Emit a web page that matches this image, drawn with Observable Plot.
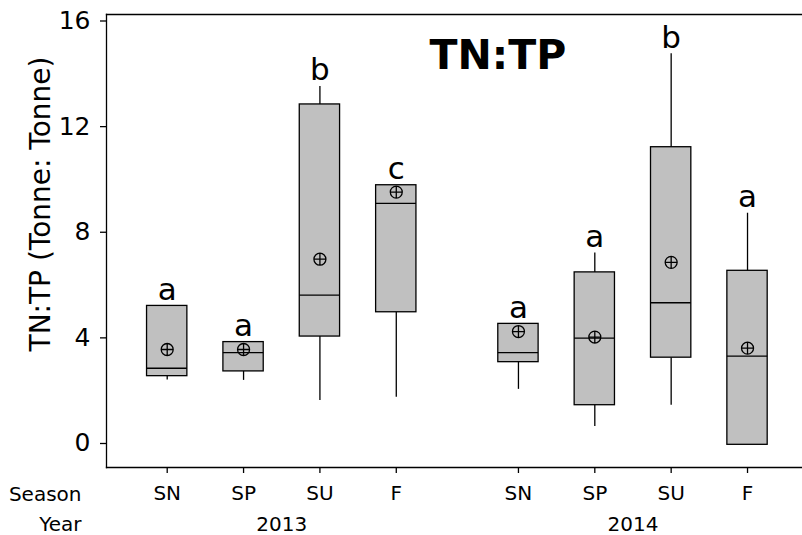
<!DOCTYPE html>
<html>
<head>
<meta charset="utf-8">
<script src="https://cdn.jsdelivr.net/npm/d3@7"></script>
<script src="https://cdn.jsdelivr.net/npm/@observablehq/plot@0.6"></script>
<style>
  body { margin: 0; background: #fff; }
  #chart svg { display: block; }
</style>
</head>
<body>
<div id="chart"></div>
<script>
// TN:TP ratio by season and year (box = quartiles, line = median, ⊕ = mean)
const years = ["2013", "2014"];
const seasons = ["SN", "SP", "SU", "F"];
const groupYear   = ["2013", "2013", "2013", "2013", "2014", "2014", "2014", "2014"];
const groupSeason = ["SN", "SP", "SU", "F", "SN", "SP", "SU", "F"];
const whiskerLow  = [2.40, 2.39, 1.63, 1.75, 2.05, 0.64, 1.45, -0.05];
const quartile1   = [2.55, 2.73, 4.05, 4.97, 3.08, 1.45, 3.25, -0.05];
const median      = [2.85, 3.44, 5.62, 9.09, 3.44, 3.99, 5.33, 3.31];
const quartile3   = [5.21, 3.84, 12.84, 9.78, 4.53, 6.48, 11.22, 6.54];
const whiskerHigh = [5.21, 3.84, 13.52, 9.78, 4.53, 7.21, 14.76, 8.72];
const means       = [3.56, 3.56, 6.98, 9.52, 4.24, 4.03, 6.86, 3.61];
const letters     = ["a", "a", "b", "c", "a", "a", "b", "a"];
const yTicks = [0, 4, 8, 12, 16];

const GAP = 0.6;    // extra slot spacing between the two years
const HALF = 0.264; // half box width, in slot units

const rows = groupSeason.map((s, i) => ({
  season: s,
  year: groupYear[i],
  pos: seasons.indexOf(s) + years.indexOf(groupYear[i]) * (seasons.length + GAP),
  lo: whiskerLow[i], q1: quartile1[i], med: median[i], q3: quartile3[i],
  hi: whiskerHigh[i], mean: means[i], letter: letters[i]
}));

const yearCenters = years.map(y => {
  const p = rows.filter(d => d.year === y).map(d => d.pos);
  return {year: y, pos: d3.mean(p)};
});

// circle with a plus through it, used for the mean
const circlePlus = {
  draw(context, size) {
    const r = Math.sqrt(size / Math.PI);
    context.moveTo(r, 0);
    context.arc(0, 0, r, 0, 2 * Math.PI);
    context.moveTo(-r, 0); context.lineTo(r, 0);
    context.moveTo(0, -r); context.lineTo(0, r);
  }
};

const SW = 1.3;
const chart = Plot.plot({
  width: 802,
  height: 535,
  marginLeft: 106,
  marginRight: 0,
  marginTop: 14,
  marginBottom: 68,
  style: {fontFamily: "'DejaVu Sans', sans-serif", fontSize: "20px", color: "black", background: "white"},
  x: {type: "linear", domain: [-0.795, 8.32], axis: null},
  y: {domain: [-0.909, 16.246], axis: null},
  marks: [
    Plot.frame({anchor: "left", stroke: "black", strokeWidth: SW}),
    Plot.frame({anchor: "top", stroke: "black", strokeWidth: SW}),
    Plot.frame({anchor: "bottom", stroke: "black", strokeWidth: SW}),
    Plot.axisY({ticks: yTicks, tickSize: 6, tickPadding: 10, fontSize: 25, label: null, strokeWidth: SW}),
    Plot.axisX({ticks: rows.map(d => d.pos), tickFormat: (d, i) => rows[i].season,
      tickSize: 6, tickPadding: 12, fontSize: 20, label: null, strokeWidth: SW}),
    // whiskers
    Plot.ruleX(rows.filter(d => d.hi > d.q3), {x: "pos", y1: "q3", y2: "hi", stroke: "black", strokeWidth: SW}),
    Plot.ruleX(rows.filter(d => d.lo < d.q1), {x: "pos", y1: "lo", y2: "q1", stroke: "black", strokeWidth: SW}),
    // boxes
    Plot.rect(rows, {x1: d => d.pos - HALF, x2: d => d.pos + HALF, y1: "q1", y2: "q3",
      fill: "#c0c0c0", stroke: "black", strokeWidth: SW}),
    Plot.ruleY(rows, {y: "med", x1: d => d.pos - HALF, x2: d => d.pos + HALF, stroke: "black", strokeWidth: SW}),
    // means
    Plot.dot(rows, {x: "pos", y: "mean", r: 6, symbol: circlePlus, fill: "none", stroke: "black", strokeWidth: SW}),
    // grouping letters
    Plot.text(rows, {x: "pos", y: d => Math.max(d.hi, d.q3), text: "letter", dy: -6,
      lineAnchor: "bottom", fontSize: 31}),
    // title inside the frame
    Plot.text(["TN:TP"], {frameAnchor: "top-left", dx: 323, dy: 54, lineAnchor: "bottom",
      textAnchor: "start", fontSize: 41, fontWeight: "bold"}),
    // y axis title
    Plot.text(["TN:TP (Tonne: Tonne)"], {frameAnchor: "left", textAnchor: "middle", rotate: -90,
      dx: -65, dy: -37, fontSize: 28}),
    // year row
    Plot.text(yearCenters, {x: "pos", frameAnchor: "bottom", text: "year", dy: 63, lineAnchor: "bottom", fontSize: 20}),
    Plot.text(["Season"], {frameAnchor: "bottom-left", textAnchor: "end", dx: -25, dy: 33, lineAnchor: "bottom", fontSize: 20}),
    Plot.text(["Year"], {frameAnchor: "bottom-left", textAnchor: "end", dx: -25, dy: 63, lineAnchor: "bottom", fontSize: 20})
  ]
});
document.getElementById("chart").append(chart);
</script>
</body>
</html>
